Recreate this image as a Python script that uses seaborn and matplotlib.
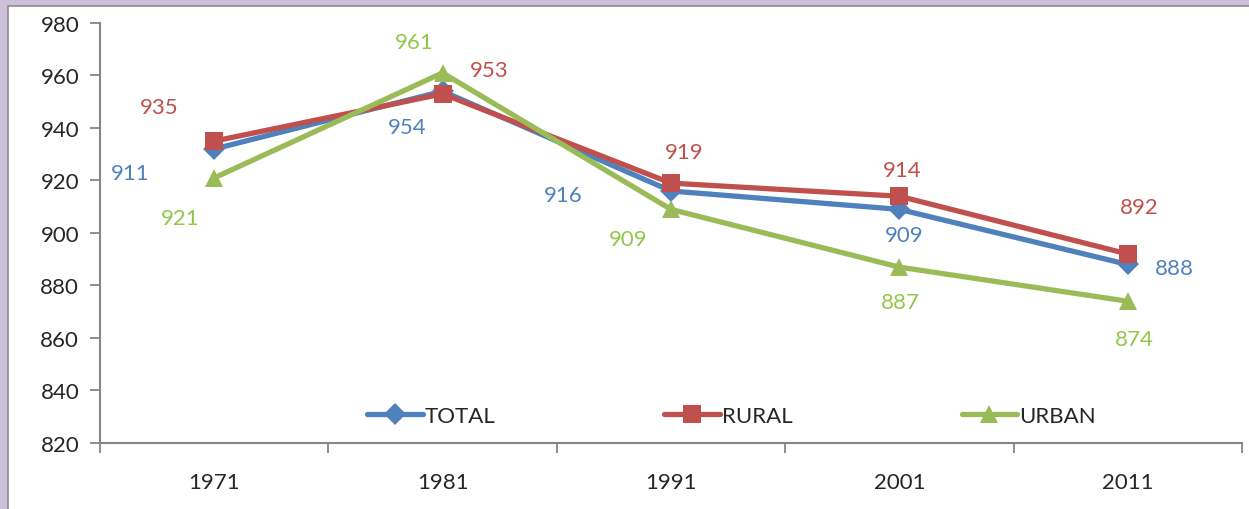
import numpy as np
import pandas as pd
import seaborn as sns
import matplotlib.pyplot as plt
from matplotlib.patches import Rectangle

# données
years = ["1971", "1981", "1991", "2001", "2011"]
total = [932, 954, 916, 909, 888]
rural = [935, 953, 919, 914, 892]
urban = [921, 961, 909, 887, 874]

# étiquettes affichées sur le graphique
total_labels = ["911", "954", "916", "909", "888"]
rural_labels = ["935", "953", "919", "914", "892"]
urban_labels = ["921", "961", "909", "887", "874"]

df = pd.DataFrame({"year": years * 3,
                   "x": list(range(5)) * 3,
                   "value": total + rural + urban,
                   "series": ["TOTAL"] * 5 + ["RURAL"] * 5 + ["URBAN"] * 5})

sns.set_style("white")
plt.rcParams['font.family'] = ['Lato', 'DejaVu Sans']
FS = 16

fig = plt.figure(figsize=(12.49, 5.10), dpi=100)
fig.patch.set_facecolor("#CCC0DA")
fig.patches.append(Rectangle((8 / 1249, -0.1), 1.1, 1 - 7 / 510 + 0.1,
                             transform=fig.transFigure, facecolor="white",
                             edgecolor="#8C8C8C", linewidth=1.2, zorder=-5))
ax = fig.add_axes([100 / 1249, 1 - 444 / 510, 1142 / 1249, 420 / 510])
ax.set_zorder(2)
ax.set_facecolor("none")

styles = {"TOTAL": ("#4F81BD", "D", 11, "#4F81BD"),
          "RURAL": ("#C0504D", "s", 13, "#C0504D"),
          "URBAN": ("#9BBB59", "^", 13, "#92C84A")}

for name in ["TOTAL", "RURAL", "URBAN"]:
    col, mk, ms, _ = styles[name]
    sub = df[df.series == name]
    sns.lineplot(data=sub, x="x", y="value", color=col, marker=mk,
                 markersize=ms, markeredgewidth=0, linewidth=3.8,
                 label=name, ax=ax, zorder=3)

# étiquettes de données (décalages en pixels)
offsets = {
    "TOTAL": [(-84, -24), (-35, -36), (-108, -4), (5, -26), (47, -4)],
    "RURAL": [(-55, 34), (47, 24), (13, 31), (3, 26), (11, 47)],
    "URBAN": [(-34, -40), (-28, 31), (-43, -30), (1, -35), (7, -38)],
}
vals = {"TOTAL": total, "RURAL": rural, "URBAN": urban}
labs = {"TOTAL": total_labels, "RURAL": rural_labels, "URBAN": urban_labels}
for name in ["TOTAL", "RURAL", "URBAN"]:
    for i in range(5):
        ax.annotate(labs[name][i], (i, vals[name][i]),
                    xytext=offsets[name][i], textcoords="offset pixels",
                    ha="center", va="center", fontsize=FS,
                    color=styles[name][3])

ax.set_xlim(-0.5, 4.5)
ax.set_ylim(820, 980)
ax.set_yticks(np.arange(820, 981, 20))
ax.set_xticks(np.arange(-0.5, 4.6, 1))
ax.set_xticklabels([])
ax.set_xticks(range(5), minor=True)
ax.set_xticklabels(years, minor=True)
ax.tick_params(axis="x", which="minor", length=0, pad=21, labelsize=FS)
ax.tick_params(axis="x", which="major", length=7, width=1.3, color="#868686",
               direction="out", bottom=True)
ax.tick_params(axis="y", length=7, width=1.3, color="#868686",
               direction="out", left=True, labelsize=FS, pad=8)
ax.set_xlabel("")
ax.set_ylabel("")

for s in ["top", "right"]:
    ax.spines[s].set_visible(False)
for s in ["left", "bottom"]:
    ax.spines[s].set_color("#868686")
    ax.spines[s].set_linewidth(1.5)

ax.legend(loc="center", bbox_to_anchor=(0.553, 0.064), ncol=3, frameon=False,
          fontsize=FS, handlelength=2.5, handletextpad=0.1, columnspacing=7.6)

fig.savefig("out.png", dpi=100, facecolor=fig.get_facecolor())
